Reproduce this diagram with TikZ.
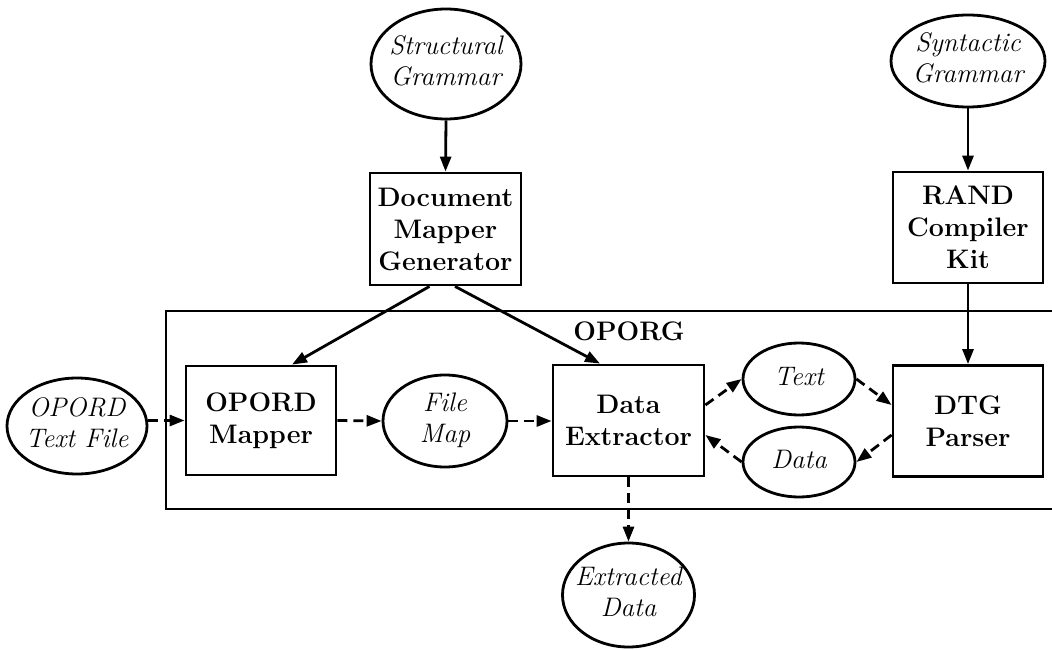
\documentclass[tikz,border=0pt]{standalone}
\usepackage{fontspec}
\usetikzlibrary{shapes.geometric,arrows.meta}
\newcommand{\mlines}[1]{\makebox[0pt][c]{\begin{tabular}{@{}c@{}}#1\end{tabular}}}
\begin{document}
\begin{tikzpicture}[x=1pt,y=-1pt,line width=2.8pt,
  ell/.style={ellipse, draw, inner sep=0pt, font=\fontsize{26.8}{31}\selectfont\itshape},
  box/.style={rectangle, draw, inner sep=0pt, align=center, font=\fontsize{26.8}{32}\selectfont\bfseries},
  arr/.style={-{Triangle[length=15pt,width=11pt]}},
  dsh/.style={arr, dash pattern=on 10pt off 6pt}]
\useasboundingbox (0,0) rectangle (1052,650);

% OPORG frame (extends past the right edge)
\draw (1070,311) -- (166,311) -- (166,509) -- (1070,509);
\node[font=\fontsize{26.8}{31}\selectfont\bfseries] (oporg) at (629,331) {OPORG};

% nodes
\node[ell, minimum width=150pt, minimum height=110pt] (sg) at (446,64) {\mlines{Structural\\Grammar}};
\node[box, minimum width=151pt, minimum height=112pt] (dmg) at (445.5,229) {Document\\Mapper\\Generator};
\node[ell, minimum width=154pt, minimum height=92pt] (syg) at (968,61) {\mlines{Syntactic\\Grammar}};
\node[box, minimum width=150pt, minimum height=111pt] (rck) at (968,227.5) {RAND\\Compiler\\Kit};

\node[ell, minimum width=140pt, minimum height=96pt] (otf) at (77,426) {\mlines{OPORD\\Text File}};
\node[box, minimum width=150pt, minimum height=109pt] (om) at (261,420.5) {OPORD\\Mapper};
\node[ell, minimum width=124pt, minimum height=92pt] (fm) at (445,421) {\mlines{File\\Map}};
\node[box, minimum width=151pt, minimum height=111pt] (de) at (628.5,420.5) {Data\\Extractor};
\node[ell, minimum width=112pt, minimum height=72pt] (txt) at (799,379) {\mlines{Text}};
\node[ell, minimum width=112pt, minimum height=70pt] (dat) at (799,462) {\mlines{Data}};
\node[box, minimum width=150pt, minimum height=111pt] (dtg) at (968,421) {DTG\\Parser};
\node[ell, minimum width=132pt, minimum height=104pt] (ed) at (628.5,595) {\mlines{Extracted\\Data}};

% solid connectors
\draw[arr] (sg.south) -- (dmg.north);
\draw[arr] (syg.south) -- (rck.north);
\draw[arr] (rck.south) -- (dtg.north);
\draw[arr] ([xshift=-16pt]dmg.south) -- ([xshift=31pt]om.north);
\draw[arr] ([xshift=9.5pt]dmg.south) -- ([xshift=-28.5pt]de.north);

% dashed connectors
\draw[dsh] (otf.east |- om.west) -- (om.west);
\draw[dsh] (om.east) -- (fm.west);
\draw[dsh] (fm.east) -- (fm.east -| de.west);
\draw[dsh] ([yshift=15.5pt]de.east) -- (txt.west);
\draw[dsh] (txt.east) -- ([yshift=16pt]dtg.west);
\draw[dsh] ([yshift=-14pt]dtg.west) -- (dat.east);
\draw[dsh] (dat.west) -- ([yshift=-14.5pt]de.east);
\draw[dsh] (de.south) -- (ed.north);
\end{tikzpicture}
\end{document}
